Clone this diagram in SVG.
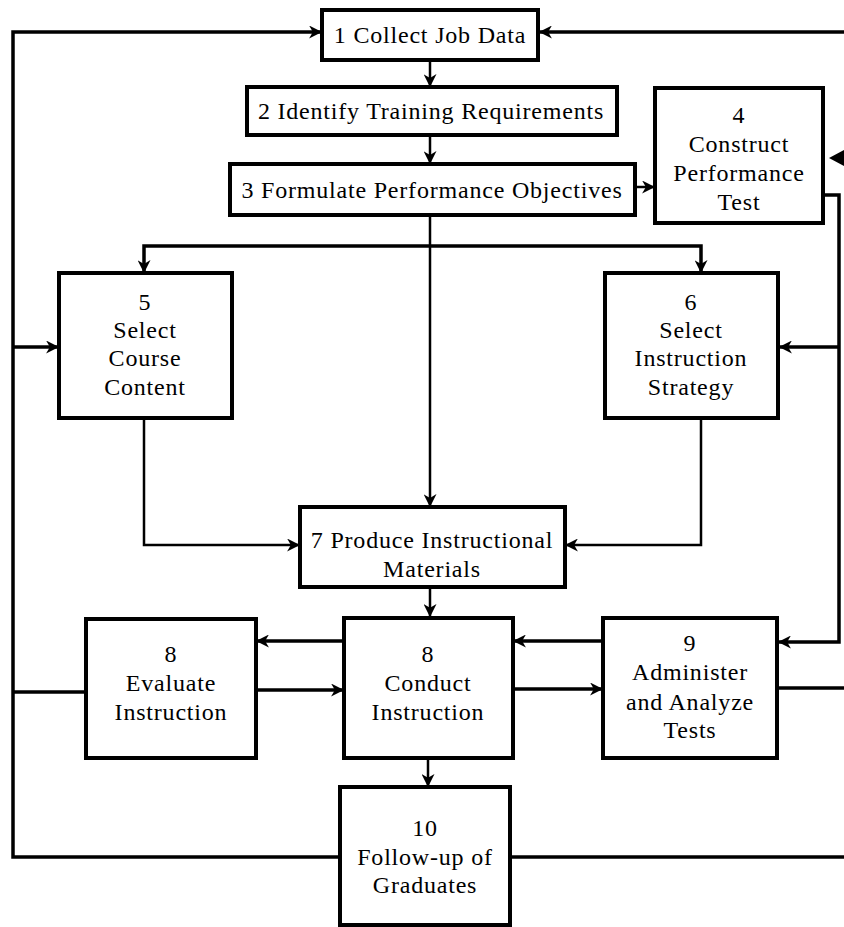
<svg xmlns="http://www.w3.org/2000/svg" width="844" height="927" viewBox="0 0 844 927">
<style>
.box{fill:#fff;stroke:#000;stroke-width:4}
.c{fill:none;stroke:#000;stroke-width:3.5}
.t{fill:none;stroke:#000;stroke-width:2.5}
text{font-family:"Liberation Serif","Times New Roman",serif;font-size:24px;letter-spacing:0.8px;fill:#000;text-anchor:middle}
</style>
<defs>
<marker id="a" viewBox="0 0 12 12" markerWidth="13" markerHeight="13" refX="11" refY="6" orient="auto" markerUnits="userSpaceOnUse">
<path d="M0,0 L12,6 L0,12 L3.5,6 z" fill="#000"/>
</marker>
</defs>
<rect width="844" height="927" fill="#fff"/>
<g id="connectors">
<path class="c" d="M340,857 H13 V32 H321" marker-end="url(#a)"/>
<path class="c" d="M13,347 H58" marker-end="url(#a)"/>
<path class="c" d="M86,692 H13"/>
<path class="c" d="M844,32 H540" marker-end="url(#a)"/>
<path d="M844,150 L829,158 L844,166 z" fill="#000"/>
<path class="c" d="M823,195 H839 V642 H779" marker-end="url(#a)"/>
<path class="c" d="M839,347 H780" marker-end="url(#a)"/>
<path class="c" d="M777,688 H844"/>
<path class="c" d="M510,857 H844"/>
<path class="t" d="M430,60 V86" marker-end="url(#a)"/>
<path class="t" d="M430,135 V163" marker-end="url(#a)"/>
<path class="t" d="M635,187 H654" marker-end="url(#a)"/>
<path class="t" d="M430,215 V506" marker-end="url(#a)"/>
<path class="c" d="M430,246 H144 V272" marker-end="url(#a)"/>
<path class="c" d="M430,246 H701 V272" marker-end="url(#a)"/>
<path class="t" d="M144,418 V545 H299" marker-end="url(#a)"/>
<path class="t" d="M701,418 V545 H566" marker-end="url(#a)"/>
<path class="t" d="M430,587 V616" marker-end="url(#a)"/>
<path class="c" d="M344,641 H257" marker-end="url(#a)"/>
<path class="c" d="M256,690 H343" marker-end="url(#a)"/>
<path class="c" d="M513,689 H602" marker-end="url(#a)"/>
<path class="c" d="M603,641 H514" marker-end="url(#a)"/>
<path class="t" d="M428,758 V786" marker-end="url(#a)"/>
</g>
<g id="n1"><rect class="box" x="322" y="10" width="216" height="50"/><text x="430" y="43">1 Collect Job Data</text></g>
<g id="n2"><rect class="box" x="247" y="87" width="370" height="48"/><text x="431" y="119">2 Identify Training Requirements</text></g>
<g id="n3"><rect class="box" x="230" y="164" width="405" height="51"/><text x="432" y="198">3 Formulate Performance Objectives</text></g>
<g id="n4"><rect class="box" x="655" y="88" width="168" height="135"/><text x="739" y="123">4</text><text x="739" y="152">Construct</text><text x="739" y="181">Performance</text><text x="739" y="210">Test</text></g>
<g id="n5"><rect class="box" x="59" y="273" width="173" height="145"/><text x="145" y="310">5</text><text x="145" y="338">Select</text><text x="145" y="366">Course</text><text x="145" y="395">Content</text></g>
<g id="n6"><rect class="box" x="605" y="273" width="173" height="145"/><text x="691" y="310">6</text><text x="691" y="338">Select</text><text x="691" y="366">Instruction</text><text x="691" y="395">Strategy</text></g>
<g id="n7"><rect class="box" x="300" y="507" width="265" height="80"/><text x="432" y="548">7 Produce Instructional</text><text x="432" y="577">Materials</text></g>
<g id="n8a"><rect class="box" x="86" y="619" width="170" height="139"/><text x="171" y="662">8</text><text x="171" y="691">Evaluate</text><text x="171" y="720">Instruction</text></g>
<g id="n8b"><rect class="box" x="344" y="618" width="169" height="140"/><text x="428" y="662">8</text><text x="428" y="691">Conduct</text><text x="428" y="720">Instruction</text></g>
<g id="n9"><rect class="box" x="603" y="618" width="174" height="140"/><text x="690" y="651">9</text><text x="690" y="680">Administer</text><text x="690" y="710">and Analyze</text><text x="690" y="738">Tests</text></g>
<g id="n10"><rect class="box" x="340" y="787" width="170" height="138"/><text x="425" y="836">10</text><text x="425" y="865">Follow-up of</text><text x="425" y="893">Graduates</text></g>
</svg>
